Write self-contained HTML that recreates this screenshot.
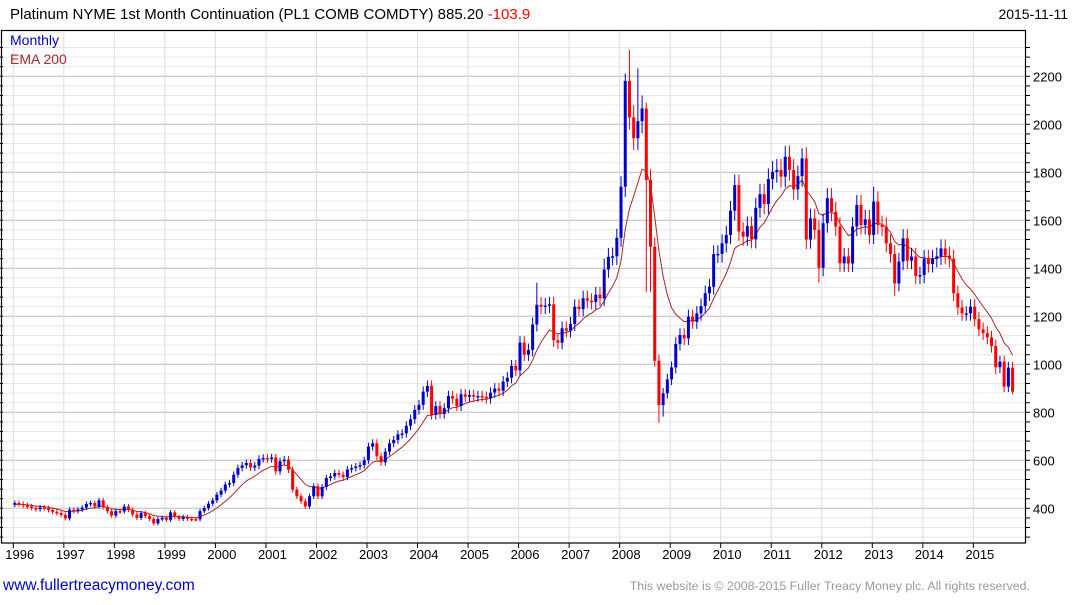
<!DOCTYPE html>
<html><head><meta charset="utf-8"><style>
body{margin:0;background:#fff;width:1075px;height:600px;overflow:hidden;font-family:"Liberation Sans",Arial,sans-serif}
svg text{font-family:"Liberation Sans",Arial,sans-serif}
</style></head><body>
<svg id="chart" width="1075" height="600" xmlns="http://www.w3.org/2000/svg">
<g id="grid"></g>
<g id="ema"></g>
<g id="candles"></g>
<rect x="1.5" y="30.5" width="1024" height="512.5" fill="none" stroke="#000" stroke-width="1.2"/>
<g id="axes"></g>
<text x="10" y="19" font-size="15" fill="#000">Platinum NYME 1st Month Continuation (PL1 COMB COMDTY) 885.20 <tspan fill="#ff0000">-103.9</tspan></text>
<text x="1068" y="19" font-size="14" text-anchor="end" fill="#000">2015-11-11</text>
<text x="10" y="45" font-size="14" fill="#0000cc">Monthly</text>
<text x="10" y="64" font-size="14" fill="#a52a2a">EMA 200</text>
<text x="3" y="590" font-size="15.5" fill="#0000cc">www.fullertreacymoney.com</text>
<text x="1030" y="590" font-size="12.4" text-anchor="end" fill="#999">This website is © 2008-2015 Fuller Treacy Money plc. All rights reserved.</text>
</svg>
<script>
const closes=[422,418,412,408,401,396,404,401,393,385,380,372,
358,394,388,395,403,418,422,408,433,405,388,370,
388,387,408,394,374,360,380,367,356,337,355,360,
352,383,364,356,364,356,355,354,388,401,419,433,
457,474,499,505,540,568,579,589,570,578,606,610,
605,612,554,596,603,561,478,450,429,408,450,492,
450,489,526,533,547,540,530,562,568,574,580,600,
657,671,617,592,636,671,685,708,712,744,771,810,
831,886,910,789,826,793,817,868,857,826,875,865,
872,865,868,865,858,882,899,890,928,944,993,975,
1090,1040,1060,1166,1248,1240,1245,1250,1100,1090,1150,1140,
1168,1240,1230,1275,1265,1260,1290,1275,1395,1448,1450,1527,
1740,2181,2029,1942,2013,2066,1768,1490,1015,830,879,937,
987,1085,1122,1108,1198,1177,1212,1243,1296,1323,1459,1460,
1504,1539,1640,1747,1553,1532,1576,1521,1652,1709,1668,1772,
1802,1810,1782,1865,1810,1729,1784,1858,1520,1608,1560,1402,
1588,1692,1636,1574,1421,1449,1420,1574,1664,1580,1604,1539,
1678,1580,1573,1504,1460,1337,1428,1525,1432,1449,1368,1372,
1440,1418,1440,1450,1483,1453,1440,1296,1237,1212,1212,1240,
1188,1146,1130,1112,1076,988,1011,907,986,886];
const firstOpen=415;
const highOverrides={145:2212,146:2309,148:2233,149:2120,150:2090,183:1910,187:1900,204:1740,124:1340,140:1440};
const lowOverrides={152:990,153:757,154:782,150:1302,151:1300,188:1480,191:1340,209:1285,233:960,237:875};
const yTicks=[400,600,800,1000,1200,1400,1600,1800,2000,2200];
const years=[1996,1997,1998,1999,2000,2001,2002,2003,2004,2005,2006,2007,2008,2009,2010,2011,2012,2013,2014,2015];
const emaAlpha=0.18;

const NS="http://www.w3.org/2000/svg";
function mk(t,a,p){const e=document.createElementNS(NS,t);for(const k in a)e.setAttribute(k,a[k]);p.appendChild(e);return e;}
function yS(v){return 364.3-(v-1000)*0.24;}
function xS(i){return 13.3+i*4.21+1.5;}
function xYear(y){return 13.3+(y-1996)*50.53;}
const grid=document.getElementById('grid'),axes=document.getElementById('axes');
for(let v=240;v<=2320;v+=40){const y=yS(v);if(y<31||y>542)continue;
 const major=yTicks.includes(v);
 const l=mk('line',{x1:2,x2:1025,y1:y,y2:y,stroke:major?'#bbb':'#e6e6e6','stroke-width':1},grid);
 
 
 const t=mk('line',{x1:1025,x2:1030,y1:y,y2:y,stroke:'#000'},axes);
 
 
 const t2=mk('line',{x1:0,x2:3,y1:y,y2:y,stroke:'#000'},axes);
 
 
}
yTicks.forEach(v=>{const tx=mk('text',{x:1033,y:yS(v)+5,'font-size':13,fill:'#000'},axes);tx.textContent=v;
 
 });
years.forEach(yr=>{const x=xYear(yr);
 const l=mk('line',{x1:x,x2:x,y1:31,y2:542,stroke:'#ddd'},grid);
 
 
 const t=mk('line',{x1:x,x2:x,y1:543,y2:548,stroke:'#000'},axes);
 
 
 const tx=mk('text',{x:x-8,y:559,'font-size':13,fill:'#000'},axes);tx.textContent=yr;
 
 });
const cg=document.getElementById('candles');
let prev=firstOpen;
closes.forEach((c,i)=>{const o=prev;prev=c;
 const up=c>=o,col=up?'#0000cc':'#ff0000';
 const hi=highOverrides[i]||Math.max(o,c)*1.025, lo=lowOverrides[i]||Math.min(o,c)*0.975;
 const x=xS(i);
 const w=mk('line',{x1:x,x2:x,y1:yS(hi),y2:yS(lo),stroke:col,'stroke-width':1},cg);
 
 
 const yt=yS(Math.max(o,c)),yb=yS(Math.min(o,c));
 const r=mk('rect',{x:x-1.5,y:yt,width:3,height:Math.max(1.5,yb-yt),fill:col},cg);
 
 
});
let e=firstOpen,pts=[];
closes.forEach((c,i)=>{e=e+emaAlpha*(c-e);pts.push(xS(i).toFixed(1)+','+yS(e).toFixed(1));});
const pl=mk('polyline',{points:pts.join(' '),fill:'none',stroke:'#a52a2a','stroke-width':1},document.getElementById('ema'));


</script>
</body></html>
